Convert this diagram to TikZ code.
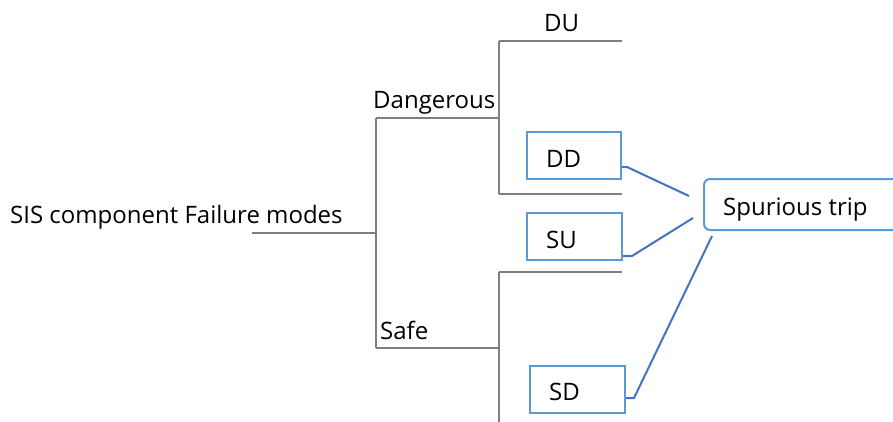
\documentclass[tikz,border=0pt]{standalone}
\usepackage{fontspec}
\setmainfont{Open Sans}
\definecolor{treegray}{HTML}{7F7F7F}
\definecolor{boxblue}{HTML}{5B9BD5}
\definecolor{linkblue}{HTML}{4472C4}
\begin{document}
\begin{tikzpicture}[x=1pt,y=-1pt,
  lbl/.style={anchor=base west,inner sep=0pt,font=\fontsize{24}{28}\selectfont},
  tree/.style={draw=treegray,line width=1.4pt},
  modebox/.style={draw=boxblue,line width=2pt,minimum width=#1,minimum height=47pt,inner sep=0pt},
  link/.style={draw=linkblue,line width=2pt,line join=round}]
\useasboundingbox (0,0) rectangle (893,421);
\clip (0,0) rectangle (893,421);
% tree skeleton
\coordinate (root) at (252,233);
\coordinate (fork) at (376,233);
\coordinate (dtop) at (376,118);
\coordinate (sbot) at (376,348);
\coordinate (dfork) at (499,118);
\coordinate (sfork) at (499,348);
\coordinate (du0) at (499,41);   \coordinate (du1) at (622,41);
\coordinate (dl0) at (499,194);  \coordinate (dl1) at (622,194);
\coordinate (st0) at (499,272);  \coordinate (st1) at (622,272);
\coordinate (sb0) at (499,430);
\draw[tree] (root) -- (fork);
\draw[tree] (dtop) -- (sbot);
\draw[tree] (dtop) -- (dfork);
\draw[tree] (sbot) -- (sfork);
\draw[tree] (du0) -- (dl0);
\draw[tree] (du0) -- (du1);
\draw[tree] (dl0) -- (dl1);
\draw[tree] (st0) -- (sb0);
\draw[tree] (st0) -- (st1);
% labels
\node[lbl] (sis) at (10,223) {SIS component Failure modes};
\node[lbl] (dang) at (373,108) {Dangerous};
\node[lbl] (safe) at (380,339) {Safe};
\node[lbl] (du) at (544,31) {DU};
% failure mode boxes
\node[modebox=94pt] (dd) at (574,155.5) {};
\node[modebox=95pt] (su) at (574.5,236.5) {};
\node[modebox=95pt] (sd) at (577.5,389.5) {};
\node[lbl] at (546,167) {DD};
\node[lbl] at (546,248) {SU};
\node[lbl] at (549,400) {SD};
% spurious trip
\node[draw=boxblue,line width=2pt,rounded corners=6pt,minimum width=230pt,minimum height=51pt,anchor=north west] (trip) at (703,178) {};
\node[lbl] at (723,215) {Spurious trip};
% links into the spurious trip box
\draw[link] (dd.east |- 0,167) -- (627,167) -- (689,196);
\draw[link] (su.east |- 0,256) -- (632,256) -- (693,218);
\draw[link] (sd.east |- 0,398) -- (634,398) -- (712,236);
\end{tikzpicture}
\end{document}
